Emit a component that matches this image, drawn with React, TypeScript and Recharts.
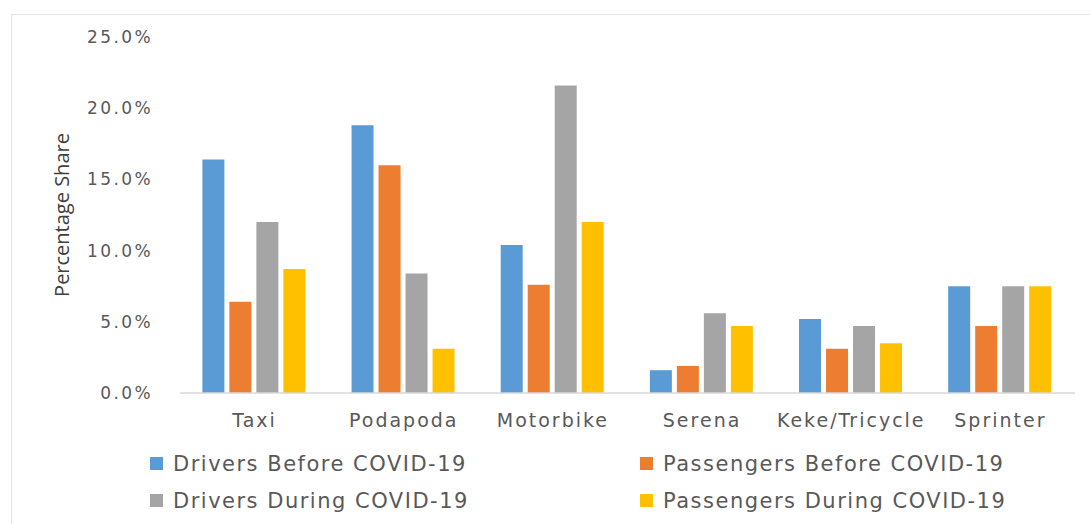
import { BarChart, Bar, XAxis, YAxis } from 'recharts';

const categories = ['Taxi', 'Podapoda', 'Motorbike', 'Serena', 'Keke/Tricycle', 'Sprinter'];

// values in percent
const driversBefore = [16.4, 18.8, 10.4, 1.6, 5.2, 7.5];
const passengersBefore = [6.4, 16.0, 7.6, 1.9, 3.1, 4.7];
const driversDuring = [12.0, 8.4, 21.6, 5.6, 4.7, 7.5];
const passengersDuring = [8.7, 3.1, 12.0, 4.7, 3.5, 7.5];

const yTicks = [0, 5, 10, 15, 20, 25];

const series = [
  { key: 'driversBefore', name: 'Drivers Before COVID-19', color: '#5b9bd5' },
  { key: 'passengersBefore', name: 'Passengers Before COVID-19', color: '#ed7d31' },
  { key: 'driversDuring', name: 'Drivers During COVID-19', color: '#a5a5a5' },
  { key: 'passengersDuring', name: 'Passengers During COVID-19', color: '#ffc000' },
];

const data = categories.map((name, i) => ({
  name,
  driversBefore: driversBefore[i],
  passengersBefore: passengersBefore[i],
  driversDuring: driversDuring[i],
  passengersDuring: passengersDuring[i],
}));

const FONT = '"DejaVu Sans", "Open Sans", sans-serif';
const TEXT = '#595959';

function ChartLegend() {
  return (
    <div
      style={{
        position: 'absolute',
        left: 150,
        top: 449,
        display: 'grid',
        gridTemplateColumns: '490px 440px',
        rowGap: 8,
        fontFamily: FONT,
        fontSize: 21,
        letterSpacing: 1.5,
        color: TEXT,
      }}
    >
      {series.map((s) => (
        <div key={s.key} style={{ display: 'flex', alignItems: 'center', height: 29, whiteSpace: 'nowrap' }}>
          <span style={{ width: 13, height: 13, background: s.color, marginRight: 10, display: 'inline-block' }} />
          <span>{s.name}</span>
        </div>
      ))}
    </div>
  );
}

export default function App() {
  return (
    <div style={{ position: 'absolute', left: 0, top: 0, width: 1090, height: 524, background: '#fff', overflow: 'hidden' }}>
      <div
        style={{
          position: 'absolute',
          left: 11,
          top: 14,
          width: 1090,
          height: 520,
          borderLeft: '1px solid #e3e3e3',
          borderTop: '1px solid #e3e3e3',
        }}
      />
      <BarChart
        width={1090}
        height={524}
        data={data}
        margin={{ top: 37, right: 15, bottom: 101, left: 100 }}
        barCategoryGap="15%"
        barGap={5}
        style={{ position: 'absolute', left: 0, top: 0 }}
      >
        <XAxis
          dataKey="name"
          height={30}
          axisLine={{ stroke: '#d9d9d9', strokeWidth: 1.5 }}
          tickLine={false}
          tickMargin={15}
          tick={{ fill: TEXT, fontSize: 19, fontFamily: FONT, letterSpacing: 2 }}
          interval={0}
        />
        <YAxis
          width={80}
          domain={[0, 25]}
          ticks={yTicks}
          axisLine={false}
          tickLine={false}
          tickSize={0}
          tickMargin={27}
          tickFormatter={(v: number) => `${v.toFixed(1)}%`}
          tick={{ fill: TEXT, fontSize: 17, fontFamily: FONT, letterSpacing: 2.4 }}
          label={{
            value: 'Percentage Share',
            angle: -90,
            position: 'insideLeft',
            offset: -38,
            style: {
              fill: '#404040',
              fontSize: 20,
              fontFamily: '"Liberation Sans Narrow", "Open Sans", sans-serif',
              textAnchor: 'middle',
            },
          }}
        />
        {series.map((s) => (
          <Bar key={s.key} dataKey={s.key} name={s.name} fill={s.color} isAnimationActive={false} />
        ))}
      </BarChart>
      <ChartLegend />
    </div>
  );
}
